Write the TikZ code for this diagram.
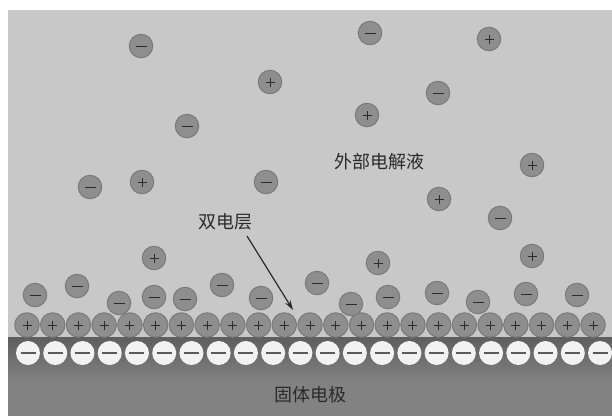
\documentclass[tikz,border=0pt]{standalone}
\usepackage{fontspec}
\newfontfamily\cjk{Noto Sans CJK SC}
\usetikzlibrary{arrows.meta}
\definecolor{bgfill}{HTML}{C8C8C8}
\definecolor{ionfill}{HTML}{8E8E8E}
\definecolor{ionedge}{HTML}{7A7A7A}
\definecolor{signink}{HTML}{2C2C2C}
\definecolor{electtop}{HTML}{5E5E5E}
\definecolor{electbot}{HTML}{828282}
\definecolor{holefill}{HTML}{F2F2F2}
\definecolor{holesign}{HTML}{5A5A5A}
\definecolor{labelink}{HTML}{2A2A2A}
\tikzset{
  ionbase/.style={circle, inner sep=0pt, minimum size=23.5pt, fill=ionfill, draw=ionedge, line width=1pt},
  pion/.style={ionbase, path picture={
      \draw[signink, line width=1pt]
        ([xshift=-4.5pt]path picture bounding box.center) -- ++(9pt,0)
        ([yshift=-4.5pt]path picture bounding box.center) -- ++(0,9pt);}},
  nion/.style={ionbase, path picture={
      \draw[signink, line width=1pt]
        ([xshift=-5.5pt]path picture bounding box.center) -- ++(11pt,0);}},
  layerion/.style={pion, minimum size=24.5pt},
  hole/.style={circle, inner sep=0pt, minimum size=24pt, fill=holefill,
    path picture={
      \draw[holesign, line width=1.8pt]
        ([xshift=-7.5pt]path picture bounding box.center) -- ++(15pt,0);}},
  caption/.style={font=\cjk\fontsize{18}{20}\selectfont, text=labelink, inner sep=1pt},
  pointer/.style={draw=labelink, line width=1.2pt, -{Stealth[length=10pt,width=6pt]}}
}
\begin{document}
\begin{tikzpicture}[x=1pt, y=-1pt]
  \useasboundingbox (0,0) rectangle (612,416);
  \fill[white] (0,0) rectangle (612,416);
  % electrolyte region
  \fill[bgfill] (8,10) rectangle (612,416);
  \begin{scope}
    \clip (8,10) rectangle (612,416);
    % solid electrode
    \shade[top color=electtop, bottom color=electbot] (8,337) rectangle (612,382);
    \fill[electbot] (8,382) rectangle (612,416);
    % negative charges on the electrode surface
    \foreach \i in {0,...,21}
      \node[hole] (h\i) at ({28+27.24*\i},353) {};
    % adsorbed cation layer
    \foreach \i in {0,...,22}
      \node[layerion] (L\i) at ({27+25.73*\i},325) {};
    % anions near the layer
    \foreach \x/\y [count=\k] in {35/295, 77/286, 119/303, 154/297, 185/299, 222/285,
        261/298, 317/283, 351/304, 388/297, 437/293, 478/302, 526/294, 577/295}
      \node[nion] (a\k) at (\x,\y) {};
  \end{scope}
  % free ions in the bulk electrolyte
  \foreach \x/\y [count=\k] in {141/46, 370/33, 438/93, 187/126, 90/187, 266/182, 500/218}
    \node[nion] (m\k) at (\x,\y) {};
  \foreach \x/\y [count=\k] in {489/39, 270/82, 367/115, 532/165, 142/182, 439/199,
      154/258, 378/263, 532/256}
    \node[pion] (c\k) at (\x,\y) {};
  % labels
  \node[caption] (bulk) at (379,162) {外部电解液};
  \node[caption] (edl) at (225,222) {双电层};
  \node[caption] (solid) at (310,395) {固体电极};
  \coordinate (edltip) at (293,310);
  \draw[pointer] (247,236) -- (edltip);
\end{tikzpicture}
\end{document}
